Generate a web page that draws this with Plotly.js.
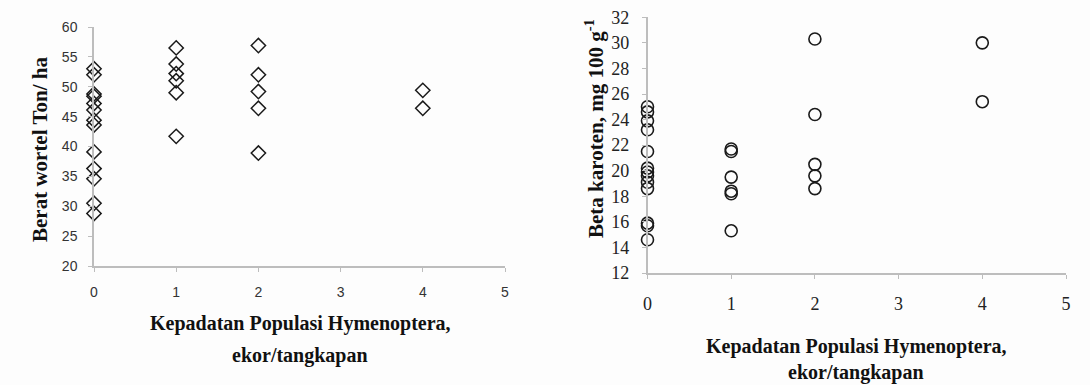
<!DOCTYPE html>
<html>
<head>
<meta charset="utf-8">
<script src="https://cdn.plot.ly/plotly-3.0.1.min.js"></script>
<style>html,body{margin:0;padding:0;background:#fdfdfd;}#chart{width:1090px;height:385px;}</style>
</head>
<body>
<div id="chart"></div>
<script>
// Left chart: carrot weight (Ton/ha) vs Hymenoptera density
const weightX = [0,0,0,0,0,0,0,0,0,0,0,0,0, 1,1,1,1,1,1, 2,2,2,2,2, 4,4];
const weightY = [53.0,52.0,48.8,48.4,47.2,46.1,44.4,43.6,39.1,36.3,34.6,30.5,28.8,
                 56.5,53.8,52.2,51.0,49.0,41.7,
                 56.9,52.0,49.2,46.4,38.9,
                 49.4,46.4];
// Right chart: beta carotene (mg 100 g-1) vs Hymenoptera density
const caroteneX = [0,0,0,0,0,0,0,0,0,0,0,0,0, 1,1,1,1,1,1, 2,2,2,2,2, 4,4];
const caroteneY = [25.0,24.6,23.9,23.2,21.5,20.2,19.9,19.6,19.1,18.6,15.9,15.7,14.6,
                   21.7,21.5,19.5,18.4,18.2,15.3,
                   30.3,24.4,20.5,19.6,18.6,
                   30.0,25.4];
const xTicks = [0,1,2,3,4,5];
const weightTicks = [20,25,30,35,40,45,50,55,60];
const caroteneTicks = [12,14,16,18,20,22,24,26,28,30,32];
const xTitleLine1 = "Kepadatan Populasi Hymenoptera,";
const xTitleLine2 = "ekor/tangkapan";
const weightTitle = "Berat wortel Ton/ ha";
const caroteneTitle = "Beta karoten, mg 100 g<sup>-1</sup>";

const W = 1090, H = 385;
const px = v => v / W, py = v => 1 - v / H;
const serif = 'Liberation Serif, Times New Roman, serif';

const axisCommon = {
  showline: true, linecolor: '#bdbdbd', linewidth: 1.5,
  ticks: 'outside', ticklen: 4, tickcolor: '#bdbdbd', tickwidth: 1,
  showgrid: false, zeroline: false, fixedrange: true
};

const traces = [
  {x: weightX, y: weightY, type: 'scatter', mode: 'markers', xaxis: 'x', yaxis: 'y', cliponaxis: false,
   marker: {symbol: 'diamond-open', size: 11, color: '#1a1a1a', line: {width: 1.5}}, hoverinfo: 'x+y'},
  {x: caroteneX, y: caroteneY, type: 'scatter', mode: 'markers', xaxis: 'x2', yaxis: 'y2', cliponaxis: false,
   marker: {symbol: 'circle-open', size: 12, color: '#1a1a1a', line: {width: 1.6}}, hoverinfo: 'x+y'}
];

function title(text, x, y, angle) {
  return {text: '<b>' + text + '</b>', xref: 'paper', yref: 'paper', x: px(x), y: py(y),
    textangle: angle || 0, showarrow: false, xanchor: 'center', yanchor: 'middle',
    font: {family: serif, size: angle ? 21 : 20, color: '#111'}};
}

const layout = {
  width: W, height: H,
  margin: {l: 0, r: 0, t: 0, b: 0},
  paper_bgcolor: '#fdfdfd', plot_bgcolor: '#fdfdfd',
  showlegend: false,
  xaxis: Object.assign({}, axisCommon, {
    domain: [px(94), px(505)], range: [0, 5], anchor: 'y',
    tickvals: xTicks, ticklabelstandoff: 8,
    tickfont: {family: 'Liberation Sans, Arial, sans-serif', size: 14, color: '#333'}
  }),
  yaxis: Object.assign({}, axisCommon, {
    domain: [py(266), py(27)], range: [20, 60], anchor: 'x',
    tickvals: weightTicks, ticklabelstandoff: 8,
    tickfont: {family: 'Liberation Sans, Arial, sans-serif', size: 14, color: '#333'}
  }),
  xaxis2: Object.assign({}, axisCommon, {
    domain: [px(647.5), px(1066)], range: [0, 5], anchor: 'y2',
    tickvals: xTicks, ticklabelstandoff: 10,
    tickfont: {family: serif, size: 18, color: '#222'}
  }),
  yaxis2: Object.assign({}, axisCommon, {
    domain: [py(273), py(17.3)], range: [12, 32], anchor: 'x2',
    tickvals: caroteneTicks, ticklabelstandoff: 9,
    tickfont: {family: serif, size: 18, color: '#222'}
  }),
  annotations: [
    title(weightTitle, 40, 150, -90),
    title(xTitleLine1, 300, 323),
    title(xTitleLine2, 300, 355),
    title(caroteneTitle, 594, 129, -90),
    title(xTitleLine1, 856, 346),
    title(xTitleLine2, 856, 372)
  ]
};

Plotly.newPlot('chart', traces, layout, {displayModeBar: false});
</script>
</body>
</html>
